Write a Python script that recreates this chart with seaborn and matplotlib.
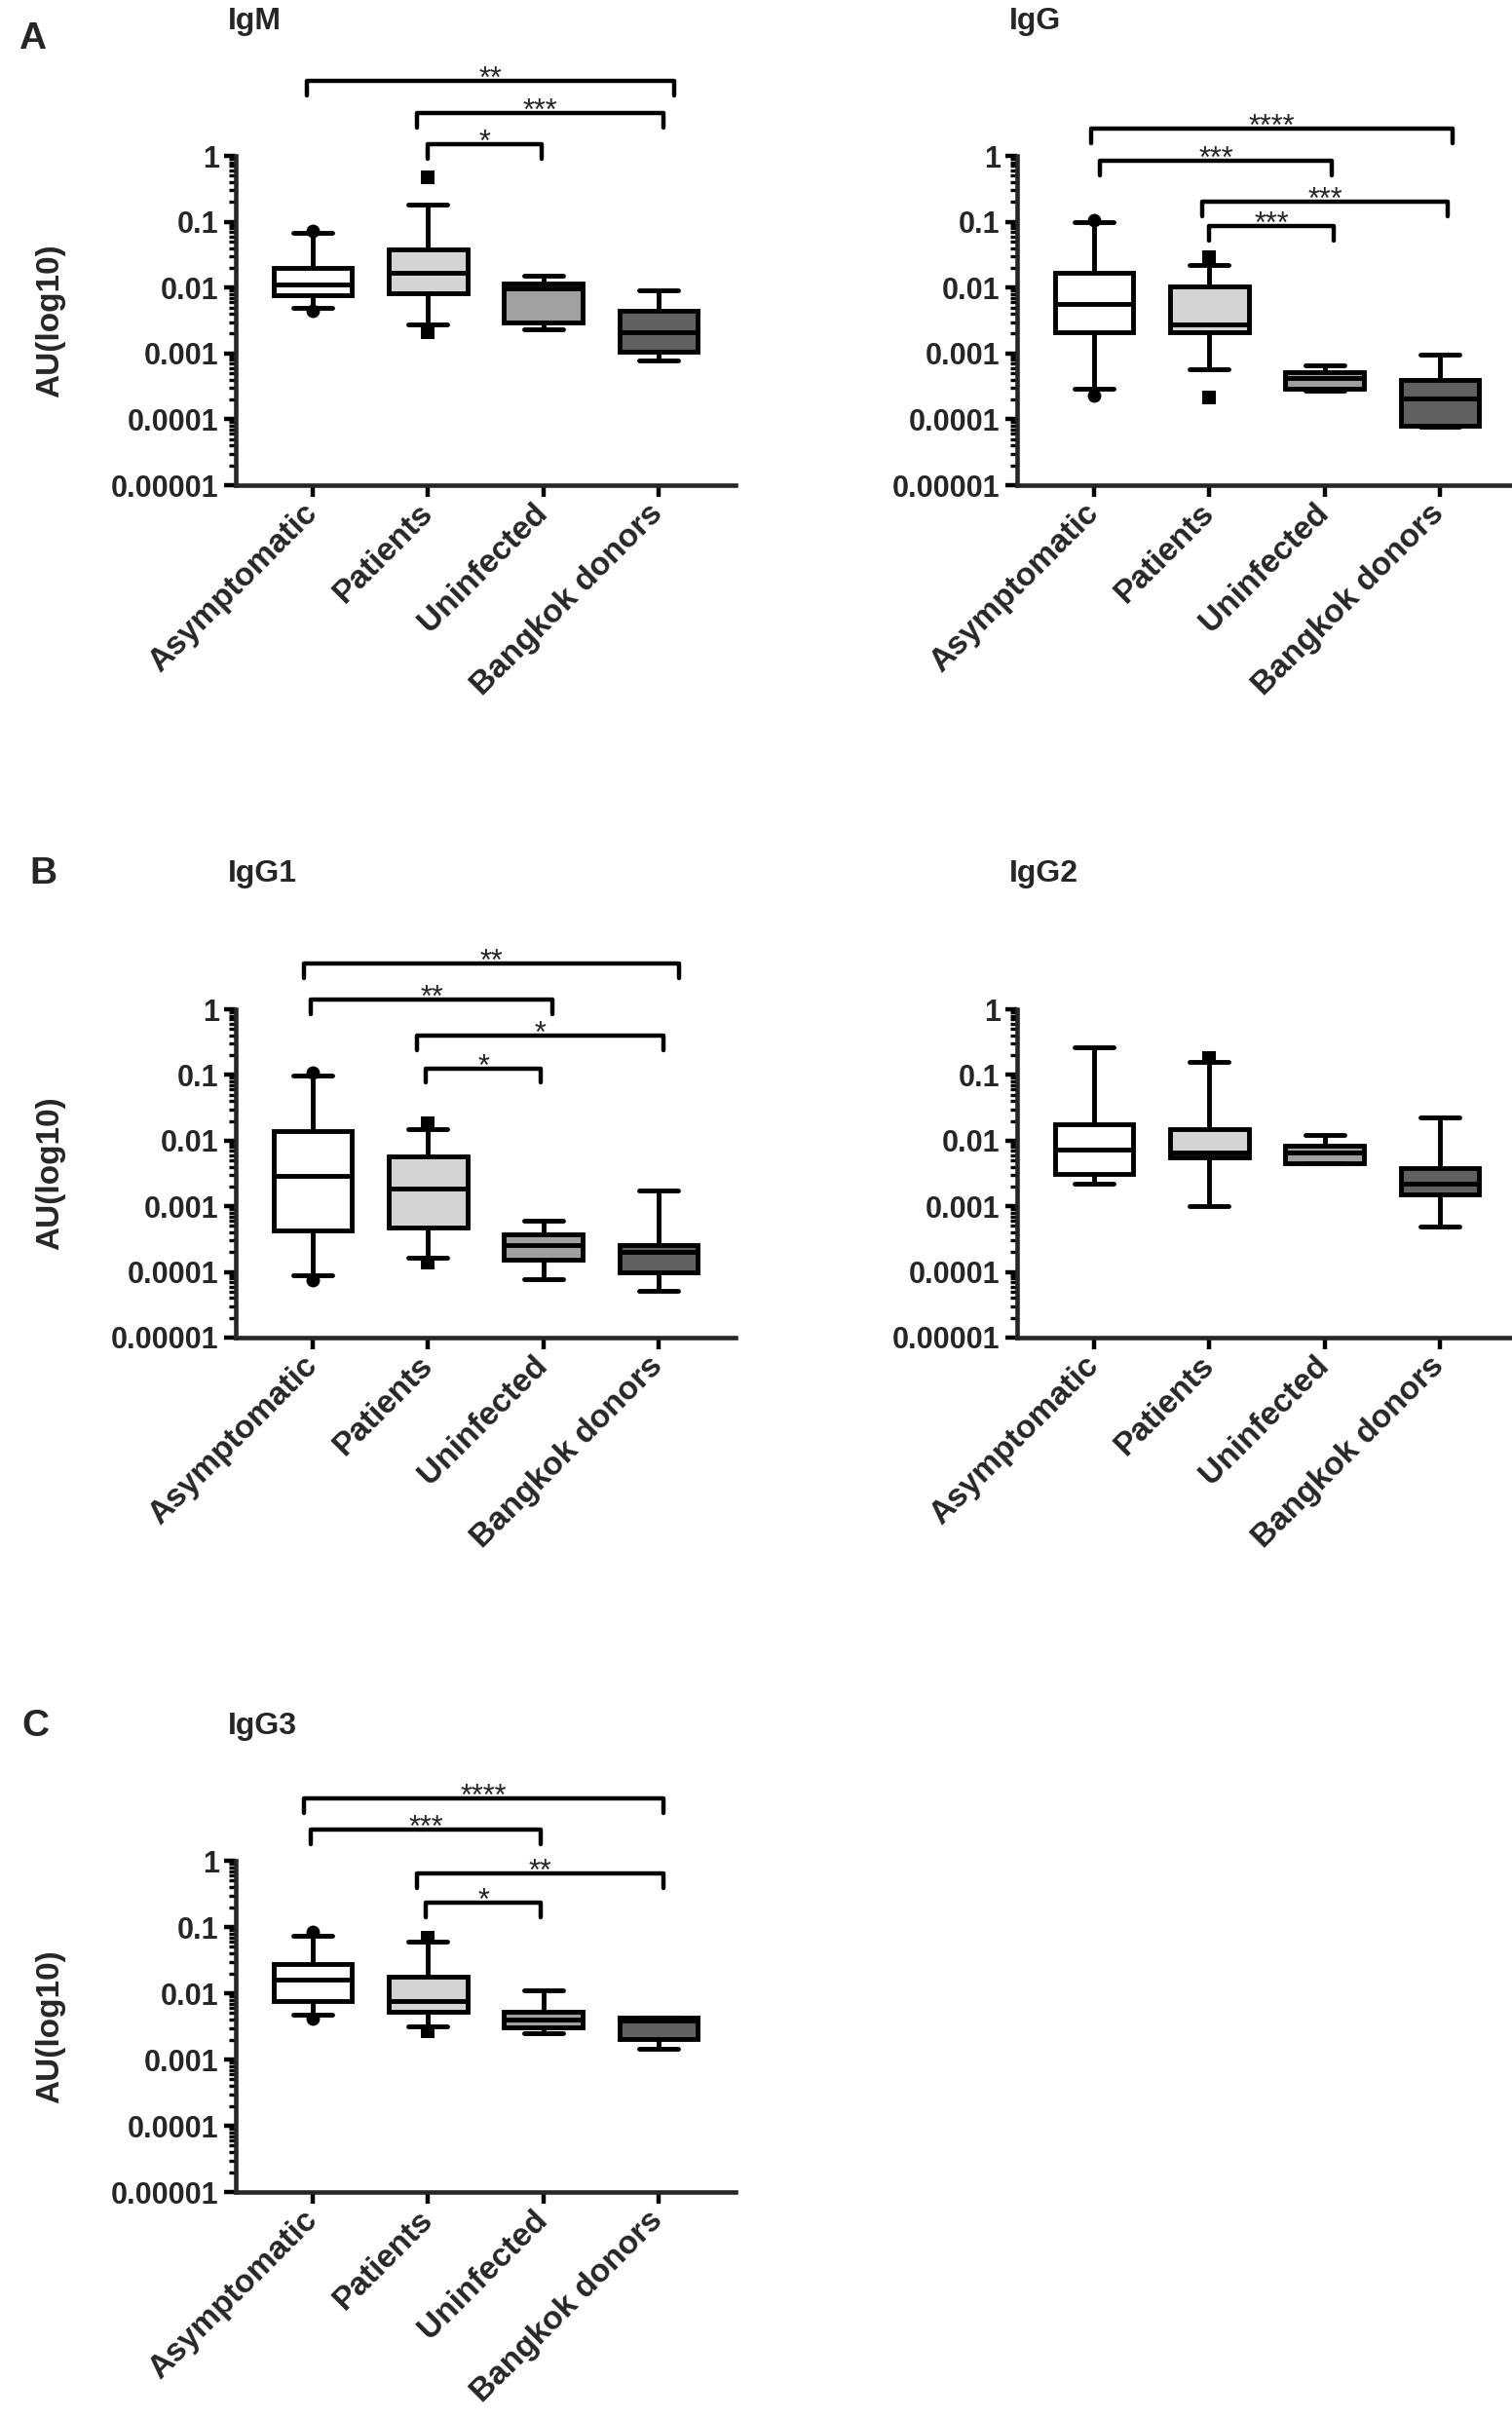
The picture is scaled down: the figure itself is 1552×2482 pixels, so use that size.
import numpy as np
import pandas as pd
import matplotlib.pyplot as plt
import seaborn as sns
from matplotlib.ticker import LogLocator, NullFormatter

# Groups and fill colours
groups = ['Asymptomatic', 'Patients', 'Uninfected', 'Bangkok donors']
fills = {'Asymptomatic': '#ffffff', 'Patients': '#d4d4d4',
         'Uninfected': '#a0a0a0', 'Bangkok donors': '#606060'}

# Box summaries (whisker low, Q1, median, Q3, whisker high)
igm_lo = [0.0049, 0.0028, 0.0023, 0.00079]
igm_q1 = [0.0076, 0.0083, 0.0030, 0.00105]
igm_med = [0.0113, 0.0169, 0.0098, 0.0021]
igm_q3 = [0.0197, 0.0375, 0.0117, 0.0044]
igm_hi = [0.067, 0.185, 0.0151, 0.009]
igm_circles = [0.072, 0.0045]
igm_squares = [0.48, 0.0021]
igm_brackets = [(-0.05, 3.14, 1.14, '**'), (0.90, 3.04, 0.65, '***'), (1.0, 1.99, 0.18, '*')]

igg_lo = [0.00029, 0.00058, 0.00027, 0.000076]
igg_q1 = [0.0021, 0.0021, 0.00029, 0.000079]
igg_med = [0.0057, 0.0028, 0.00043, 0.000206]
igg_q3 = [0.0166, 0.0103, 0.00052, 0.0004]
igg_hi = [0.099, 0.022, 0.00067, 0.00095]
igg_circles = [0.104, 0.00023]
igg_squares = [0.0286, 0.000215]
igg_brackets = [(-0.03, 3.11, 0.41, '****'), (0.05, 2.06, -0.074, '***'),
                (0.94, 3.07, -0.69, '***'), (1.0, 2.08, -1.07, '***')]

igg1_lo = [0.0000886, 0.000162, 0.0000776, 0.0000522]
igg1_q1 = [0.000425, 0.00047, 0.000153, 0.0000993]
igg1_med = [0.0029, 0.00187, 0.000255, 0.000204]
igg1_q3 = [0.014, 0.0057, 0.00038, 0.000255]
igg1_hi = [0.098, 0.0151, 0.0006, 0.00176]
igg1_circles = [0.11, 0.000074]
igg1_squares = [0.0185, 0.000137]
igg1_brackets = [(-0.08, 3.18, 0.70, '**'), (-0.02, 2.08, 0.15, '**'),
                 (0.90, 3.04, -0.40, '*'), (0.98, 1.98, -0.90, '*')]

igg2_lo = [0.00221, 0.001, 0.0045, 0.000495]
igg2_q1 = [0.00315, 0.00554, 0.00457, 0.00154]
igg2_med = [0.00736, 0.00657, 0.0066, 0.00224]
igg2_q3 = [0.0176, 0.0152, 0.00843, 0.00381]
igg2_hi = [0.262, 0.157, 0.012, 0.0229]
igg2_circles = []
igg2_squares = [0.18]
igg2_brackets = []

igg3_lo = [0.0047, 0.00316, 0.00252, 0.00144]
igg3_q1 = [0.00754, 0.00526, 0.0031, 0.00206]
igg3_med = [0.0163, 0.0076, 0.00405, 0.00387]
igg3_q3 = [0.0276, 0.0176, 0.00526, 0.00434]
igg3_hi = [0.0746, 0.061, 0.0112, 0.00434]
igg3_circles = [0.0835, 0.0042]
igg3_squares = [0.068, 0.00267]
igg3_brackets = [(-0.08, 3.04, 0.94, '****'), (-0.02, 1.98, 0.47, '***'),
                 (0.90, 3.04, -0.19, '**'), (0.98, 1.98, -0.63, '*')]

sns.set_style('ticks')
plt.rcParams['font.family'] = ['Liberation Sans', 'DejaVu Sans']
plt.rcParams['axes.linewidth'] = 3.3

W, H = 1552, 2482
fig = plt.figure(figsize=(W / 100, H / 100), dpi=100)


def add_ax(left_px, top_px, bottom_px, width_px=513):
    return fig.add_axes([left_px / W, 1 - bottom_px / H, width_px / W, (bottom_px - top_px) / H])


def draw_panel(ax, lo, q1, med, q3, hi, circles, squares, brackets, ylabel):
    ax.set_yscale('log')
    rows = []
    for g, vals in zip(groups, zip(lo, q1, med, q3, hi)):
        for v in vals:
            rows.append((g, v))
    df = pd.DataFrame(rows, columns=['group', 'au'])
    sns.boxplot(data=df, x='group', y='au', hue='group', order=groups, hue_order=groups,
                palette=fills, saturation=1, width=0.68, whis=(0, 100),
                linecolor='black', linewidth=3.5, showfliers=False, legend=False, ax=ax)
    if circles:
        sns.stripplot(x=['Asymptomatic'] * len(circles), y=circles, order=groups,
                      jitter=False, marker='o', color='black', size=10, linewidth=0, ax=ax)
    if squares:
        sns.stripplot(x=['Patients'] * len(squares), y=squares, order=groups,
                      jitter=False, marker='s', color='black', size=10, linewidth=0, ax=ax)

    ax.set_xlim(-0.67, 3.67)
    ax.set_ylim(1e-5, 1)
    ax.set_yticks([1e-5, 1e-4, 1e-3, 1e-2, 1e-1, 1])
    ax.set_yticklabels(['0.00001', '0.0001', '0.001', '0.01', '0.1', '1'],
                       fontsize=22, fontweight='bold')
    ax.yaxis.set_minor_locator(LogLocator(base=10, subs=np.arange(2, 10)))
    ax.yaxis.set_minor_formatter(NullFormatter())
    ax.set_xticks(range(len(groups)))
    ax.set_xticklabels(groups, rotation=45, ha='right', va='center',
                       rotation_mode='anchor', fontsize=24, fontweight='bold')
    ax.tick_params(axis='both', which='major', length=8.5, width=3.2, pad=4, color='black')
    ax.tick_params(axis='y', which='minor', length=5, width=2.4, color='black')
    ax.tick_params(axis='x', which='major', pad=9)
    sns.despine(ax=ax)
    ax.set_xlabel('')
    if ylabel:
        ax.set_ylabel('AU(log10)', fontsize=24, fontweight='bold')
        ax.yaxis.set_label_coords(-0.34, 0.5)
    else:
        ax.set_ylabel('')

    # significance brackets
    for x0, x1, lvl, label in brackets:
        top = 10 ** lvl
        foot = 10 ** (lvl - 0.22)
        ax.plot([x0, x0, x1, x1], [foot, top, top, foot], color='black',
                lw=3.2, clip_on=False)
        ax.annotate(label, xy=((x0 + x1) / 2, top), xytext=(0, -5),
                    textcoords='offset points', ha='center', va='baseline',
                    fontsize=22, annotation_clip=False)


panels = [
    (242, 160, 498, igm_lo, igm_q1, igm_med, igm_q3, igm_hi, igm_circles, igm_squares, igm_brackets, True, 'IgM', 30),
    (1044, 160, 498, igg_lo, igg_q1, igg_med, igg_q3, igg_hi, igg_circles, igg_squares, igg_brackets, False, 'IgG', 30),
    (242, 1036, 1373, igg1_lo, igg1_q1, igg1_med, igg1_q3, igg1_hi, igg1_circles, igg1_squares, igg1_brackets, True, 'IgG1', 905),
    (1044, 1036, 1373, igg2_lo, igg2_q1, igg2_med, igg2_q3, igg2_hi, igg2_circles, igg2_squares, igg2_brackets, False, 'IgG2', 905),
    (242, 1910, 2250, igg3_lo, igg3_q1, igg3_med, igg3_q3, igg3_hi, igg3_circles, igg3_squares, igg3_brackets, True, 'IgG3', 1780),
]

for left, top, bottom, lo, q1, med, q3, hi, circ, sq, br, ylab, title, tb in panels:
    ax = add_ax(left, top, bottom)
    draw_panel(ax, lo, q1, med, q3, hi, circ, sq, br, ylab)
    fig.text((left - 8) / W, 1 - tb / H, title, fontsize=23, fontweight='bold',
             ha='left', va='baseline')

for letter, x, y in [('A', 19, 50), ('B', 30, 907), ('C', 22, 1782)]:
    fig.text(x / W, 1 - y / H, letter, fontsize=28, fontweight='bold', ha='left', va='baseline')

fig.savefig('out.png', dpi=100)
